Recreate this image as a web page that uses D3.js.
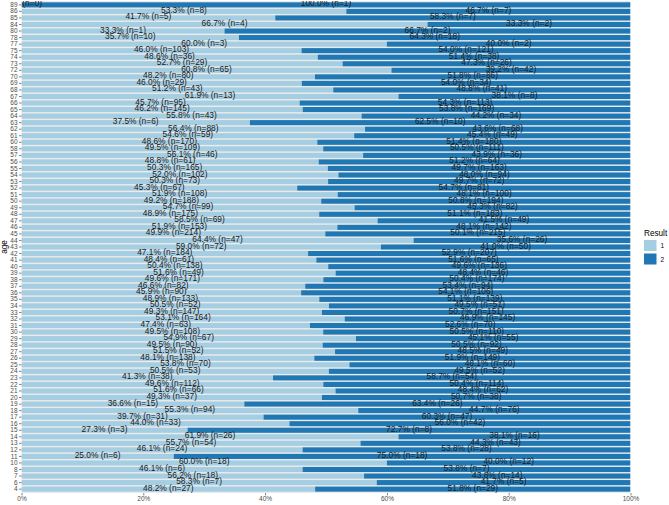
<!DOCTYPE html>
<html><head><meta charset="utf-8">
<script src="https://cdn.jsdelivr.net/npm/d3@7"></script>
<style>
html,body{margin:0;padding:0;background:#fff;}
svg{display:block;font-family:"Liberation Sans",Arial,Helvetica,sans-serif;}
</style></head>
<body>
<svg id="chart" width="669" height="505"></svg>
<script>
const ages = [89,86,85,84,80,78,77,75,74,73,72,70,69,68,67,66,65,64,63,62,61,60,58,57,56,55,54,53,52,51,50,49,48,47,46,45,44,43,42,41,40,39,38,37,36,35,34,33,32,31,30,29,28,27,26,25,24,23,22,21,20,19,18,17,16,15,14,13,12,11,10,8,7,6,4];
const pct1 = ["0.0","53.3","41.7","66.7","33.3","35.7","60.0","46.0","48.6","52.7","60.8","48.2","46.0","51.2","61.9","45.7","46.2","55.8","37.5","56.4","54.6","48.6","49.5","56.1","48.8","50.3","52.0","50.3","45.3","51.9","49.2","54.7","48.9","58.5","51.9","49.9","64.4","59.0","47.1","48.4","50.4","51.6","49.6","46.6","45.9","48.9","50.5","49.3","53.1","47.4","49.5","54.9","49.5","51.5","48.1","53.8","50.5","41.3","49.6","51.6","49.3","36.6","55.3","39.7","44.0","27.3","61.9","55.7","46.1","25.0","60.0","46.1","56.2","58.3","48.2"];
const n1 = [0,8,5,4,1,10,3,103,36,29,65,80,29,43,13,95,145,43,6,88,59,170,109,46,61,165,102,73,67,108,188,99,175,69,153,214,47,72,184,61,138,49,171,82,90,133,52,147,164,63,108,67,90,52,138,70,53,38,112,66,37,15,94,31,33,3,26,54,24,6,18,6,18,7,27];
const pct2 = ["100.0","46.7","58.3","33.3","66.7","64.3","40.0","54.0","51.4","47.3","39.2","51.8","54.0","48.8","38.1","54.3","53.8","44.2","62.5","43.6","45.4","51.4","50.5","43.9","51.2","49.7","48.0","49.7","54.7","48.1","50.8","45.3","51.1","41.5","48.1","50.1","35.6","41.0","52.9","51.6","49.6","48.4","50.4","53.4","54.1","51.1","49.5","50.7","46.9","52.6","50.5","45.1","50.5","48.5","51.9","46.1","49.5","58.7","50.4","48.4","50.7","63.4","44.7","60.3","56.0","72.7","38.1","44.3","53.8","75.0","40.0","53.8","43.8","41.7","51.8"];
const n2 = [1,7,7,2,2,18,2,121,38,26,42,86,34,41,8,113,169,34,10,68,49,180,111,36,64,163,94,72,81,100,194,82,183,49,142,215,26,50,207,65,136,46,174,94,106,139,51,151,145,70,110,55,92,49,149,60,52,54,114,62,38,26,76,47,42,8,16,43,28,18,12,7,14,5,29];
const xTicks = [0,0.2,0.4,0.6,0.8,1];
const legendLabels = ["1","2"];
const colors = ["#A6CEE3","#1F78B4"];

const rows = ages.map((a,i)=>({age:String(a), n1:n1[i], n2:n2[i], p1:pct1[i], p2:pct2[i], f:n1[i]/(n1[i]+n2[i])}));

const svg = d3.select("#chart");
const L = 21.5, R = 630.5, T = 1, B = 493;
const x = d3.scaleLinear().domain([0,1]).range([L,R]);
const y = d3.scaleBand().domain(rows.map(d=>d.age)).range([T,B]).paddingInner(0.22).paddingOuter(0.2);

svg.append("defs").append("clipPath").attr("id","pclip")
  .append("rect").attr("x",L).attr("y",T).attr("width",R-L).attr("height",B-T);

svg.append("rect").attr("x",L).attr("y",T).attr("width",R-L).attr("height",B-T).attr("fill","#EBEBEB");

const panel = svg.append("g").attr("clip-path","url(#pclip)");

panel.selectAll("rect.s1").data(rows).join("rect").attr("class","s1")
  .attr("x",x(0)).attr("y",d=>y(d.age)).attr("height",y.bandwidth())
  .attr("width",d=>x(d.f)-x(0)).attr("fill",colors[0]);
panel.selectAll("rect.s2").data(rows).join("rect").attr("class","s2")
  .attr("x",d=>x(d.f)).attr("y",d=>y(d.age)).attr("height",y.bandwidth())
  .attr("width",d=>x(1)-x(d.f)).attr("fill",colors[1]);

const yc = d=>y(d.age)+y.bandwidth()/2 - 1.5;
panel.selectAll("text.l1").data(rows).join("text").attr("class","l1")
  .attr("x",d=>x(d.f/2)).attr("y",yc).attr("text-anchor","middle")
  .attr("dominant-baseline","central").attr("font-size","8.4px").attr("fill","#1a1a1a")
  .text(d=>`${d.p1}% (n=${d.n1})`);
panel.selectAll("text.l2").data(rows).join("text").attr("class","l2")
  .attr("x",d=>x(d.f+(1-d.f)/2)).attr("y",yc).attr("text-anchor","middle")
  .attr("dominant-baseline","central").attr("font-size","8.4px").attr("fill","#1a1a1a")
  .text(d=>`${d.p2}% (n=${d.n2})`);

// y axis
const yAxis = svg.append("g").attr("transform",`translate(${L},0)`)
  .call(d3.axisLeft(y).tickSize(2.5).tickPadding(1.5));
yAxis.select(".domain").remove();
yAxis.selectAll(".tick line").attr("stroke","#333").attr("stroke-width",0.6);
yAxis.selectAll(".tick text").attr("font-size","6.5px").attr("fill","#4D4D4D").attr("font-family",null);

// x axis
const xAxis = svg.append("g").attr("transform",`translate(0,${B})`)
  .call(d3.axisBottom(x).tickValues(xTicks).tickFormat(d3.format(".0%")).tickSize(2.5).tickPadding(1));
xAxis.select(".domain").remove();
xAxis.selectAll(".tick line").attr("stroke","#333").attr("stroke-width",0.6);
xAxis.selectAll(".tick text").attr("font-size","6.5px").attr("fill","#4D4D4D").attr("font-family",null);

// axis title
svg.append("text").attr("transform",`translate(7,247) rotate(-90)`)
  .attr("text-anchor","middle").attr("font-size","8.2px").attr("fill","#000").text("age");

// legend
const lg = svg.append("g").attr("transform","translate(644,0)");
lg.append("text").attr("x",0).attr("y",236).attr("font-size","8.2px").attr("fill","#000").text("Result");
legendLabels.forEach((lab,i)=>{
  lg.append("rect").attr("x",0).attr("y",240+i*13.5).attr("width",12.5).attr("height",11).attr("fill",colors[i]);
  lg.append("text").attr("x",16.5).attr("y",245.5+i*13.5).attr("dominant-baseline","central")
    .attr("font-size","6.5px").attr("fill","#000").text(lab);
});
</script>
</body></html>
